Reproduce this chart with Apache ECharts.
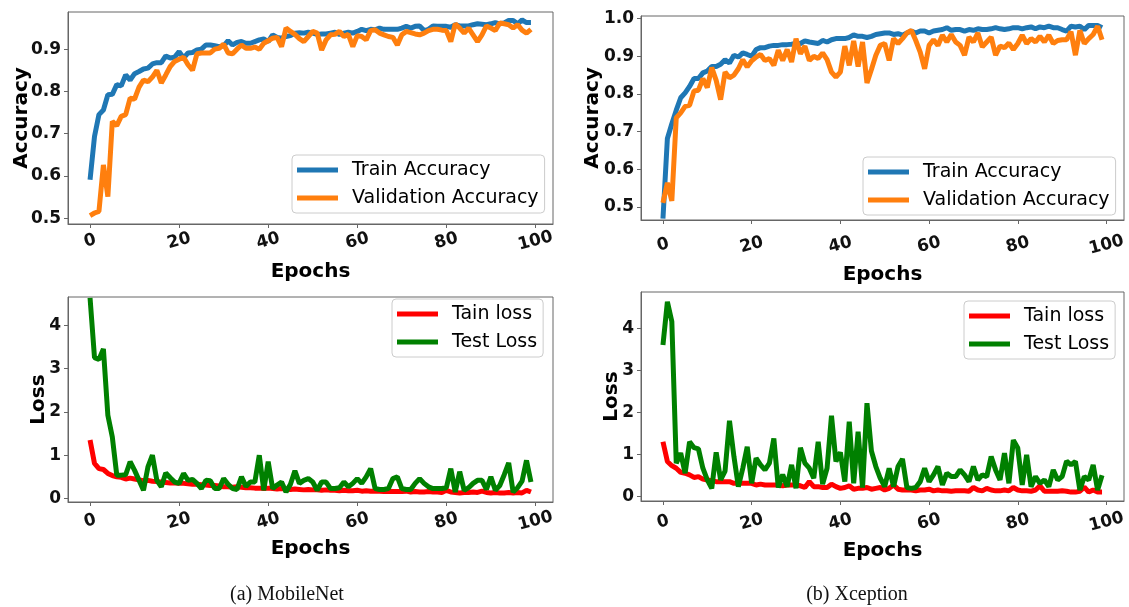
<!DOCTYPE html>
<html>
<head>
<meta charset="utf-8">
<script src="https://cdn.jsdelivr.net/npm/echarts@6/dist/echarts.min.js"></script>
<style>
html,body{margin:0;padding:0;background:#fff;}
#chart{width:1129px;height:607px;}
</style>
</head>
<body>
<div id="chart"></div>
<script>
// ---- data ----
const epochs = Array.from({length: 100}, (_, i) => i);
const xTicks = [0, 20, 40, 60, 80, 100];
const mobAccTicks = [0.5, 0.6, 0.7, 0.8, 0.9];
const xcAccTicks = [0.5, 0.6, 0.7, 0.8, 0.9, 1.0];
const lossTicks = [0, 1, 2, 3, 4];

const mobTrainAcc = [0.591,0.693,0.745,0.756,0.792,0.793,0.816,0.813,0.839,0.827,
 0.842,0.847,0.853,0.855,0.865,0.868,0.868,0.884,0.879,0.881,
 0.894,0.879,0.891,0.892,0.898,0.900,0.910,0.910,0.908,0.906,
 0.908,0.920,0.910,0.916,0.918,0.914,0.914,0.918,0.922,0.924,
 0.918,0.934,0.928,0.926,0.930,0.932,0.938,0.939,0.938,0.940,
 0.938,0.935,0.936,0.936,0.938,0.940,0.935,0.938,0.940,0.938,
 0.942,0.947,0.944,0.947,0.946,0.950,0.947,0.947,0.947,0.947,
 0.950,0.954,0.950,0.954,0.955,0.944,0.947,0.955,0.954,0.954,
 0.954,0.952,0.958,0.955,0.955,0.955,0.958,0.960,0.959,0.958,
 0.960,0.963,0.960,0.962,0.968,0.968,0.960,0.969,0.963,0.963];

const mobValAcc = [0.506,0.512,0.516,0.626,0.551,0.729,0.719,0.741,0.745,0.784,
 0.782,0.810,0.827,0.823,0.834,0.850,0.820,0.839,0.859,0.871,
 0.876,0.881,0.863,0.850,0.889,0.891,0.891,0.891,0.900,0.902,
 0.912,0.891,0.889,0.900,0.910,0.902,0.902,0.905,0.900,0.914,
 0.920,0.926,0.928,0.906,0.950,0.942,0.935,0.925,0.918,0.930,
 0.942,0.938,0.898,0.922,0.934,0.935,0.942,0.930,0.935,0.906,
 0.932,0.930,0.922,0.944,0.946,0.938,0.934,0.930,0.928,0.910,
 0.934,0.942,0.939,0.936,0.934,0.938,0.944,0.947,0.947,0.945,
 0.944,0.918,0.960,0.950,0.938,0.950,0.934,0.918,0.934,0.955,
 0.950,0.944,0.962,0.960,0.958,0.950,0.958,0.945,0.938,0.947];

const mobTrainLoss = [1.35,0.81,0.69,0.67,0.58,0.53,0.50,0.49,0.45,0.47,
 0.45,0.43,0.41,0.42,0.40,0.39,0.38,0.37,0.36,0.36,
 0.35,0.35,0.34,0.33,0.33,0.32,0.31,0.30,0.30,0.29,
 0.27,0.27,0.26,0.27,0.26,0.25,0.25,0.24,0.24,0.23,
 0.24,0.23,0.22,0.23,0.22,0.21,0.22,0.21,0.20,0.21,
 0.20,0.20,0.19,0.20,0.19,0.19,0.18,0.19,0.18,0.18,
 0.19,0.17,0.18,0.17,0.17,0.17,0.16,0.17,0.16,0.16,
 0.16,0.17,0.15,0.16,0.15,0.15,0.16,0.15,0.15,0.14,
 0.19,0.15,0.14,0.13,0.14,0.14,0.15,0.14,0.17,0.14,
 0.13,0.14,0.13,0.13,0.14,0.13,0.14,0.13,0.19,0.15];

const mobTestLoss = [4.63,3.25,3.21,3.45,1.92,1.42,0.54,0.54,0.55,0.85,
 0.65,0.42,0.19,0.73,1.00,0.42,0.27,0.59,0.48,0.38,
 0.35,0.58,0.42,0.44,0.35,0.23,0.42,0.41,0.23,0.23,
 0.46,0.33,0.23,0.21,0.50,0.28,0.38,0.38,1.00,0.19,
 0.85,0.23,0.31,0.38,0.15,0.33,0.64,0.35,0.42,0.46,
 0.38,0.19,0.38,0.38,0.23,0.23,0.25,0.38,0.27,0.35,
 0.46,0.35,0.50,0.69,0.23,0.21,0.21,0.23,0.46,0.50,
 0.23,0.21,0.21,0.35,0.46,0.35,0.27,0.23,0.23,0.23,
 0.25,0.69,0.15,0.62,0.19,0.25,0.35,0.42,0.42,0.21,
 0.50,0.19,0.30,0.55,0.82,0.15,0.25,0.40,0.88,0.38];

const xcTrainAcc = [0.469,0.682,0.721,0.757,0.790,0.803,0.820,0.841,0.841,0.856,
 0.861,0.873,0.873,0.879,0.891,0.882,0.903,0.898,0.909,0.905,
 0.900,0.918,0.923,0.923,0.927,0.929,0.929,0.931,0.931,0.932,
 0.934,0.934,0.941,0.938,0.936,0.934,0.942,0.938,0.944,0.947,
 0.947,0.947,0.950,0.957,0.953,0.953,0.950,0.953,0.958,0.960,
 0.962,0.962,0.958,0.960,0.956,0.962,0.967,0.962,0.967,0.967,
 0.962,0.967,0.969,0.971,0.976,0.969,0.971,0.971,0.967,0.971,
 0.969,0.973,0.971,0.971,0.973,0.976,0.973,0.971,0.973,0.976,
 0.976,0.973,0.976,0.978,0.973,0.978,0.976,0.980,0.976,0.976,
 0.971,0.967,0.980,0.978,0.980,0.971,0.982,0.982,0.982,0.976];

const xcValAcc = [0.511,0.564,0.516,0.737,0.750,0.767,0.770,0.808,0.810,0.841,
 0.817,0.870,0.836,0.785,0.858,0.843,0.850,0.867,0.891,0.872,
 0.888,0.898,0.905,0.889,0.894,0.876,0.916,0.889,0.918,0.885,
 0.947,0.907,0.927,0.889,0.900,0.894,0.909,0.891,0.858,0.845,
 0.858,0.927,0.876,0.941,0.873,0.938,0.829,0.865,0.903,0.929,
 0.934,0.889,0.947,0.934,0.947,0.962,0.969,0.942,0.911,0.867,
 0.929,0.944,0.929,0.956,0.938,0.958,0.938,0.929,0.903,0.951,
 0.938,0.962,0.925,0.938,0.951,0.903,0.927,0.923,0.935,0.918,
 0.934,0.956,0.934,0.947,0.938,0.953,0.938,0.956,0.934,0.942,
 0.944,0.944,0.965,0.903,0.969,0.934,0.947,0.958,0.980,0.944];

const xcTrainLoss = [1.30,0.83,0.73,0.67,0.57,0.55,0.51,0.45,0.47,0.41,
 0.39,0.37,0.35,0.35,0.35,0.35,0.31,0.31,0.31,0.31,
 0.31,0.27,0.29,0.27,0.27,0.27,0.27,0.25,0.27,0.27,
 0.27,0.25,0.21,0.35,0.23,0.23,0.21,0.21,0.29,0.23,
 0.19,0.21,0.25,0.17,0.19,0.19,0.21,0.17,0.19,0.21,
 0.15,0.19,0.27,0.17,0.15,0.15,0.15,0.13,0.15,0.15,
 0.17,0.13,0.15,0.13,0.13,0.12,0.13,0.13,0.13,0.12,
 0.21,0.15,0.13,0.19,0.15,0.13,0.13,0.15,0.13,0.21,
 0.15,0.13,0.13,0.12,0.15,0.25,0.12,0.12,0.12,0.12,
 0.13,0.12,0.10,0.10,0.12,0.22,0.10,0.15,0.10,0.10];

const xcTestLoss = [3.61,4.64,4.17,0.79,1.03,0.55,1.30,1.16,1.13,0.67,
 0.39,0.19,1.05,0.39,0.60,1.80,0.95,0.23,0.67,1.18,
 0.31,0.91,0.75,0.63,0.79,1.38,0.21,0.52,0.23,0.75,
 0.19,1.16,0.79,0.67,0.43,1.30,0.29,0.67,1.92,0.83,
 1.05,0.35,1.78,0.31,1.54,0.21,2.22,1.08,0.71,0.43,
 0.23,0.67,0.23,0.71,0.89,0.21,0.19,0.21,0.35,0.67,
 0.35,0.51,0.71,0.27,0.55,0.47,0.47,0.63,0.51,0.35,
 0.71,0.39,0.51,0.47,0.95,0.63,0.39,1.03,0.31,1.34,
 1.15,0.27,0.99,0.23,0.47,0.31,0.39,0.23,0.63,0.39,
 0.47,0.84,0.75,0.83,0.15,0.47,0.39,0.75,0.15,0.50];

// ---- chart ----
const FONT = 'DejaVu Sans';
const C = {blue:'#1f77b4', orange:'#ff7f0e', red:'#ff0000', green:'#008000'};
const grids = [
  {left: 68, top: 12, width: 485, height: 212},
  {left: 641, top: 16, width: 483, height: 204},
  {left: 68, top: 297, width: 485, height: 205},
  {left: 641, top: 292, width: 483, height: 209}
];
const yRanges = [[0.486, 0.988], [0.4655, 1.007], [-0.08, 4.65], [-0.112, 4.873]];
const yTickSets = [mobAccTicks, xcAccTicks, lossTicks, lossTicks];
const yNames = ['Accuracy', 'Accuracy', 'Loss', 'Loss'];
const yGaps = [36, 38, 19, 19];
const xGaps = [38, 45, 37, 40];
const xLabelMargins = [17, 25, 19, 21];

function pairs(arr){ return arr.map((v, i) => [epochs[i], v]); }

const xAxis = grids.map((g, i) => ({
  type: 'value', gridIndex: i, min: -4.95, max: 103.95,
  name: 'Epochs', nameLocation: 'middle', nameGap: xGaps[i],
  nameTextStyle: {fontFamily: FONT, fontWeight: 'bold', fontSize: 20, color: '#000'},
  axisLine: {show: true, onZero: false, lineStyle: {color: '#666', width: 1}},
  axisTick: {show: true, inside: false, length: 4, customValues: xTicks, lineStyle: {color: '#666'}},
  axisLabel: {show: true, customValues: xTicks, rotate: 15, align: 'center', verticalAlign: 'middle', margin: xLabelMargins[i],
    fontFamily: FONT, fontWeight: 'bold', fontSize: 17, color: '#111'},
  splitLine: {show: false}
}));

const yAxis = grids.map((g, i) => ({
  type: 'value', gridIndex: i, min: yRanges[i][0], max: yRanges[i][1],
  name: yNames[i], nameLocation: 'middle', nameGap: yGaps[i], nameRotate: 90, nameMoveOverlap: false,
  nameTextStyle: {fontFamily: FONT, fontWeight: 'bold', fontSize: 20, color: '#000'},
  axisLine: {show: true, onZero: false, lineStyle: {color: '#666', width: 1}},
  axisTick: {show: true, inside: false, length: 4, customValues: yTickSets[i], lineStyle: {color: '#666'}},
  axisLabel: {show: true, customValues: yTickSets[i], margin: 7,
    formatter: (v) => (i < 2 ? v.toFixed(1) : String(Math.round(v))),
    fontFamily: FONT, fontWeight: 'bold', fontSize: 17, color: '#111'},
  splitLine: {show: false}
}));

function line(name, data, color, idx){
  return {type: 'line', name, data: pairs(data), xAxisIndex: idx, yAxisIndex: idx,
    showSymbol: false, symbol: 'none', color, lineStyle: {color, width: 5}, clip: true, animation: false};
}

const series = [
  line('Train Accuracy', mobTrainAcc, C.blue, 0),
  line('Validation Accuracy', mobValAcc, C.orange, 0),
  line('Train Accuracy', xcTrainAcc, C.blue, 1),
  line('Validation Accuracy', xcValAcc, C.orange, 1),
  line('Tain loss', mobTrainLoss, C.red, 2),
  line('Test Loss', mobTestLoss, C.green, 2),
  line('Tain loss', xcTrainLoss, C.red, 3),
  line('Test Loss', xcTestLoss, C.green, 3)
];

function legend(names, left, top){
  return {data: names, orient: 'vertical', left, top, icon: 'rect', itemWidth: 41, itemHeight: 5,
    itemGap: 6, padding: [4, 6, 4, 5], selectedMode: false,
    backgroundColor: 'rgba(255,255,255,0.8)', borderColor: '#ccc', borderWidth: 1, borderRadius: 4,
    textStyle: {fontFamily: FONT, fontSize: 19, color: '#000', lineHeight: 22, padding: [0, 0, 0, 9]}};
}

const option = {
  backgroundColor: '#fff',
  animation: false,
  grid: grids.map(g => Object.assign({show: true, borderColor: '#666', borderWidth: 1, backgroundColor: 'transparent'}, g)),
  xAxis, yAxis, series,
  legend: [
    legend(['Train Accuracy', 'Validation Accuracy'], 292, 155),
    legend(['Train Accuracy', 'Validation Accuracy'], 863, 157),
    legend(['Tain loss', 'Test Loss'], 392, 299),
    legend(['Tain loss', 'Test Loss'], 964, 301)
  ],
  title: [
    {text: '(a) MobileNet', left: 282, top: 580, textAlign: 'center',
     textStyle: {fontFamily: 'Liberation Serif', fontWeight: 'normal', fontSize: 20, color: '#111'}},
    {text: '(b) Xception', left: 852, top: 580, textAlign: 'center',
     textStyle: {fontFamily: 'Liberation Serif', fontWeight: 'normal', fontSize: 20, color: '#111'}}
  ]
};

const chart = echarts.init(document.getElementById('chart'), null, {renderer: 'canvas'});
chart.setOption(option);
</script>
</body>
</html>
